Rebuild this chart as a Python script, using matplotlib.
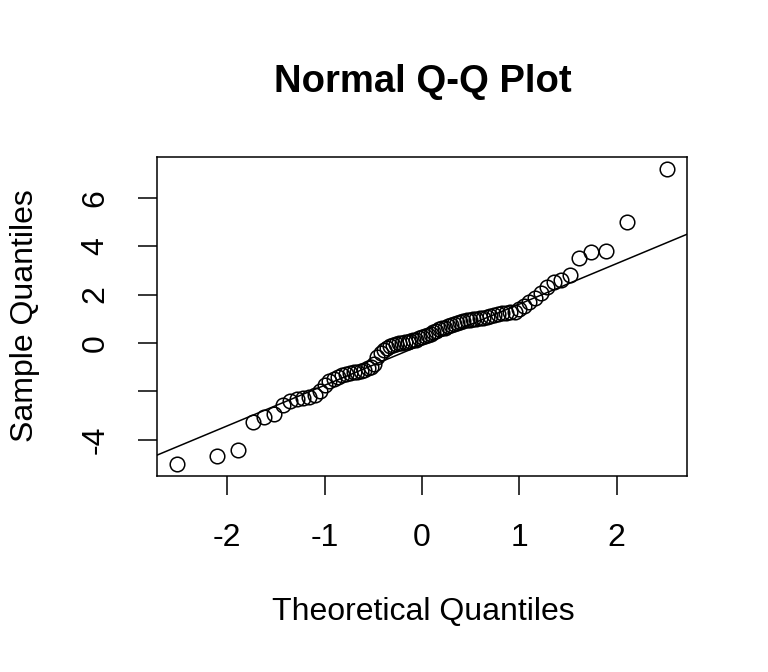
"""
Normal Q-Q plot (R qqnorm / qqline style)
"""

from statistics import NormalDist
import numpy as np
import matplotlib
matplotlib.use("Agg")
import matplotlib.pyplot as plt

plt.rcParams['font.family'] = ['Liberation Sans', 'DejaVu Sans']

# sorted sample values
sample = [
    -5.00, -4.65, -4.40, -3.24, -3.04, -2.91, -2.56, -2.40, -2.33, -2.29,
    -2.23, -2.15, -1.98, -1.74, -1.57, -1.47, -1.40, -1.34, -1.28, -1.23,
    -1.21, -1.20, -1.14, -1.10, -1.05, -0.99, -0.87, -0.58, -0.41, -0.29,
    -0.21, -0.14, -0.08, -0.04, -0.01, 0.02, 0.04, 0.06, 0.08, 0.12,
    0.14, 0.19, 0.23, 0.29, 0.33, 0.39, 0.45, 0.50, 0.56, 0.60,
    0.64, 0.70, 0.74, 0.79, 0.83, 0.87, 0.91, 0.93, 0.95, 0.99,
    1.01, 1.03, 1.05, 1.06, 1.12, 1.16, 1.20, 1.22, 1.24, 1.28,
    1.29, 1.40, 1.53, 1.71, 1.86, 2.07, 2.33, 2.53, 2.60, 2.79,
    3.52, 3.76, 3.78, 5.00, 7.19,
]
x_ticks = [-2, -1, 0, 1, 2]
y_ticks = [-4, -2, 0, 2, 4, 6]
y_tick_labels = ['-4', '', '0', '2', '4', '6']

title = 'Normal Q-Q Plot'
x_label = 'Theoretical Quantiles'
y_label = 'Sample Quantiles'

# theoretical quantiles like R's qnorm(ppoints(n))
y = np.array(sample)
n = len(y)
nd = NormalDist()
theo = np.array([nd.inv_cdf((i - 0.5) / n) for i in range(1, n + 1)])

# qqline through the quartiles
q_s = np.percentile(y, [25, 75])
q_t = np.array([nd.inv_cdf(0.25), nd.inv_cdf(0.75)])
slope = (q_s[1] - q_s[0]) / (q_t[1] - q_t[0])
intercept = q_s[0] - slope * q_t[0]

fig = plt.figure(figsize=(7.68, 6.72), dpi=100)
ax = fig.add_axes([0.2044, 0.2917, 0.6901, 0.4747])

ax.plot(theo, y, 'o', mfc='none', mec='black', ms=10.5, mew=1.1)

xr = theo.max() - theo.min()
yr = y.max() - y.min()
ax.set_xlim(theo.min() - 0.04 * xr, theo.max() + 0.04 * xr)
ax.set_ylim(y.min() - 0.04 * yr, y.max() + 0.04 * yr)

xx = np.array(ax.get_xlim())
ax.plot(xx, intercept + slope * xx, color='black', lw=1.1)

ax.set_xticks(x_ticks)
ax.set_xticklabels([str(v) for v in x_ticks])
ax.set_yticks(y_ticks)
ax.set_yticklabels(y_tick_labels, rotation=90, va='center')
ax.tick_params(axis='both', direction='out', length=13.5, width=1.1,
               labelsize=23, color='black')
ax.tick_params(axis='x', pad=20)
ax.tick_params(axis='y', pad=20)
for s in ax.spines.values():
    s.set_linewidth(1.1)

fig.text(0.5508, 0.878, title, ha='center', va='center',
         fontsize=27.5, fontweight='bold')
fig.text(0.5508, 0.089, x_label, ha='center', va='center', fontsize=23)
fig.text(0.033, 0.5298, y_label, ha='center', va='center', fontsize=23,
         rotation=90)

fig.savefig('out.png', dpi=100)
